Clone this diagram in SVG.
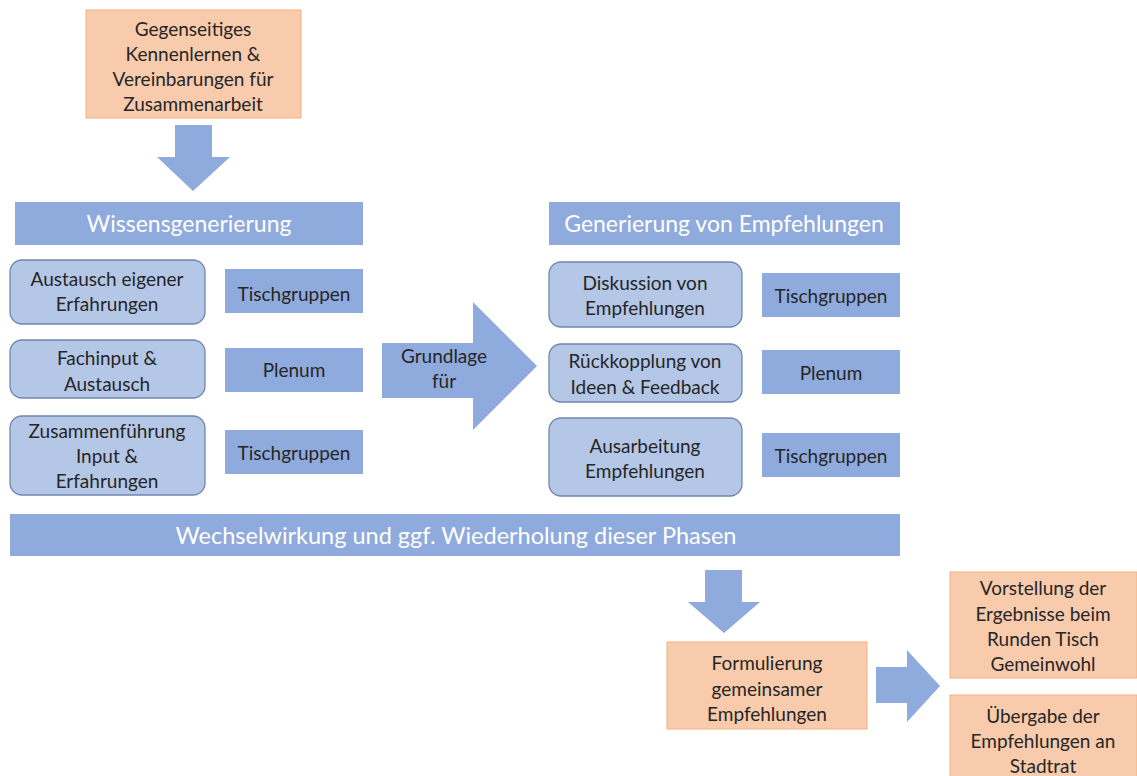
<svg xmlns="http://www.w3.org/2000/svg" width="1137" height="776" viewBox="0 0 1137 776">
<style>
.org{fill:#F8CBAD;stroke:#F4B183;stroke-width:1}
.bar{fill:#8FAADC}
.rnd{fill:#B4C7E7;stroke:#6F87AE;stroke-width:1.3}
.arr{fill:#8FAADC}
text{font-family:Lato,"Open Sans","Liberation Sans",sans-serif;font-size:19px;fill:#262626;text-anchor:middle;dominant-baseline:central}
.hd{fill:#ffffff;font-size:23px}
.hw{fill:#ffffff;font-size:23.5px}
</style>
<rect width="1137" height="776" fill="#ffffff"/>
<g id="connectors">
<polygon class="arr" points="175,125 212,125 212,157 230,157 193,191 157,157 175,157"/>
<polygon class="arr" points="382,343 473,343 473,302 537,366 473,430 473,398 382,398"/>
<text x="444" y="355">Grundlage</text>
<text x="444" y="380">für</text>
<polygon class="arr" points="705,570 742,570 742,602 760,602 724,633 688,602 705,602"/>
<polygon class="arr" points="876,667 907,667 907,650 940,686 907,722 907,703 876,703"/>
</g>
<g id="start"><rect class="org" x="86" y="10" width="215" height="108"/>
<text x="193" y="28">Gegenseitiges</text><text x="193" y="53">Kennenlernen &amp;</text><text x="193" y="78">Vereinbarungen für</text><text x="193" y="103">Zusammenarbeit</text></g>
<g id="wissen"><rect class="bar" x="15" y="202" width="348" height="43"/><text class="hd" x="189" y="223">Wissensgenerierung</text></g>
<g id="generierung"><rect class="bar" x="549" y="202" width="351" height="43"/><text class="hd" x="724" y="223">Generierung von Empfehlungen</text></g>
<g id="l1"><rect class="rnd" x="10" y="260" width="195" height="64" rx="12"/><text x="107" y="278">Austausch eigener</text><text x="107" y="303">Erfahrungen</text></g>
<g id="l2"><rect class="rnd" x="10" y="340" width="195" height="58" rx="12"/><text x="107" y="357">Fachinput &amp;</text><text x="107" y="383">Austausch</text></g>
<g id="l3"><rect class="rnd" x="10" y="416" width="195" height="79" rx="12"/><text x="107" y="430">Zusammenführung</text><text x="107" y="455">Input &amp;</text><text x="107" y="480">Erfahrungen</text></g>
<g id="lt1"><rect class="bar" x="225" y="269" width="138" height="44"/><text x="294" y="293">Tischgruppen</text></g>
<g id="lt2"><rect class="bar" x="225" y="348" width="138" height="44"/><text x="294" y="369">Plenum</text></g>
<g id="lt3"><rect class="bar" x="225" y="430" width="138" height="44"/><text x="294" y="452">Tischgruppen</text></g>
<g id="r1"><rect class="rnd" x="549" y="262" width="193" height="65" rx="12"/><text x="645" y="282">Diskussion von</text><text x="645" y="307">Empfehlungen</text></g>
<g id="r2"><rect class="rnd" x="549" y="344" width="193" height="58" rx="12"/><text x="645" y="360">Rückkopplung von</text><text x="645" y="386">Ideen &amp; Feedback</text></g>
<g id="r3"><rect class="rnd" x="549" y="418" width="193" height="78" rx="12"/><text x="645" y="445">Ausarbeitung</text><text x="645" y="470">Empfehlungen</text></g>
<g id="rt1"><rect class="bar" x="762" y="273" width="138" height="44"/><text x="831" y="295">Tischgruppen</text></g>
<g id="rt2"><rect class="bar" x="762" y="350" width="138" height="44"/><text x="831" y="372">Plenum</text></g>
<g id="rt3"><rect class="bar" x="762" y="433" width="138" height="44"/><text x="831" y="455">Tischgruppen</text></g>
<g id="wechsel"><rect class="bar" x="10" y="514" width="890" height="42"/><text class="hw" x="456" y="535">Wechselwirkung und ggf. Wiederholung dieser Phasen</text></g>
<g id="formulierung"><rect class="org" x="667" y="642" width="200" height="87"/><text x="767" y="662">Formulierung</text><text x="767" y="688">gemeinsamer</text><text x="767" y="713">Empfehlungen</text></g>
<g id="vorstellung"><rect class="org" x="950" y="572" width="187" height="106"/><text x="1043" y="587">Vorstellung der</text><text x="1043" y="613">Ergebnisse beim</text><text x="1043" y="638">Runden Tisch</text><text x="1043" y="663">Gemeinwohl</text></g>
<g id="uebergabe"><rect class="org" x="950" y="695" width="187" height="85"/><text x="1043" y="715">Übergabe der</text><text x="1043" y="740">Empfehlungen an</text><text x="1043" y="765">Stadtrat</text></g>
</svg>
